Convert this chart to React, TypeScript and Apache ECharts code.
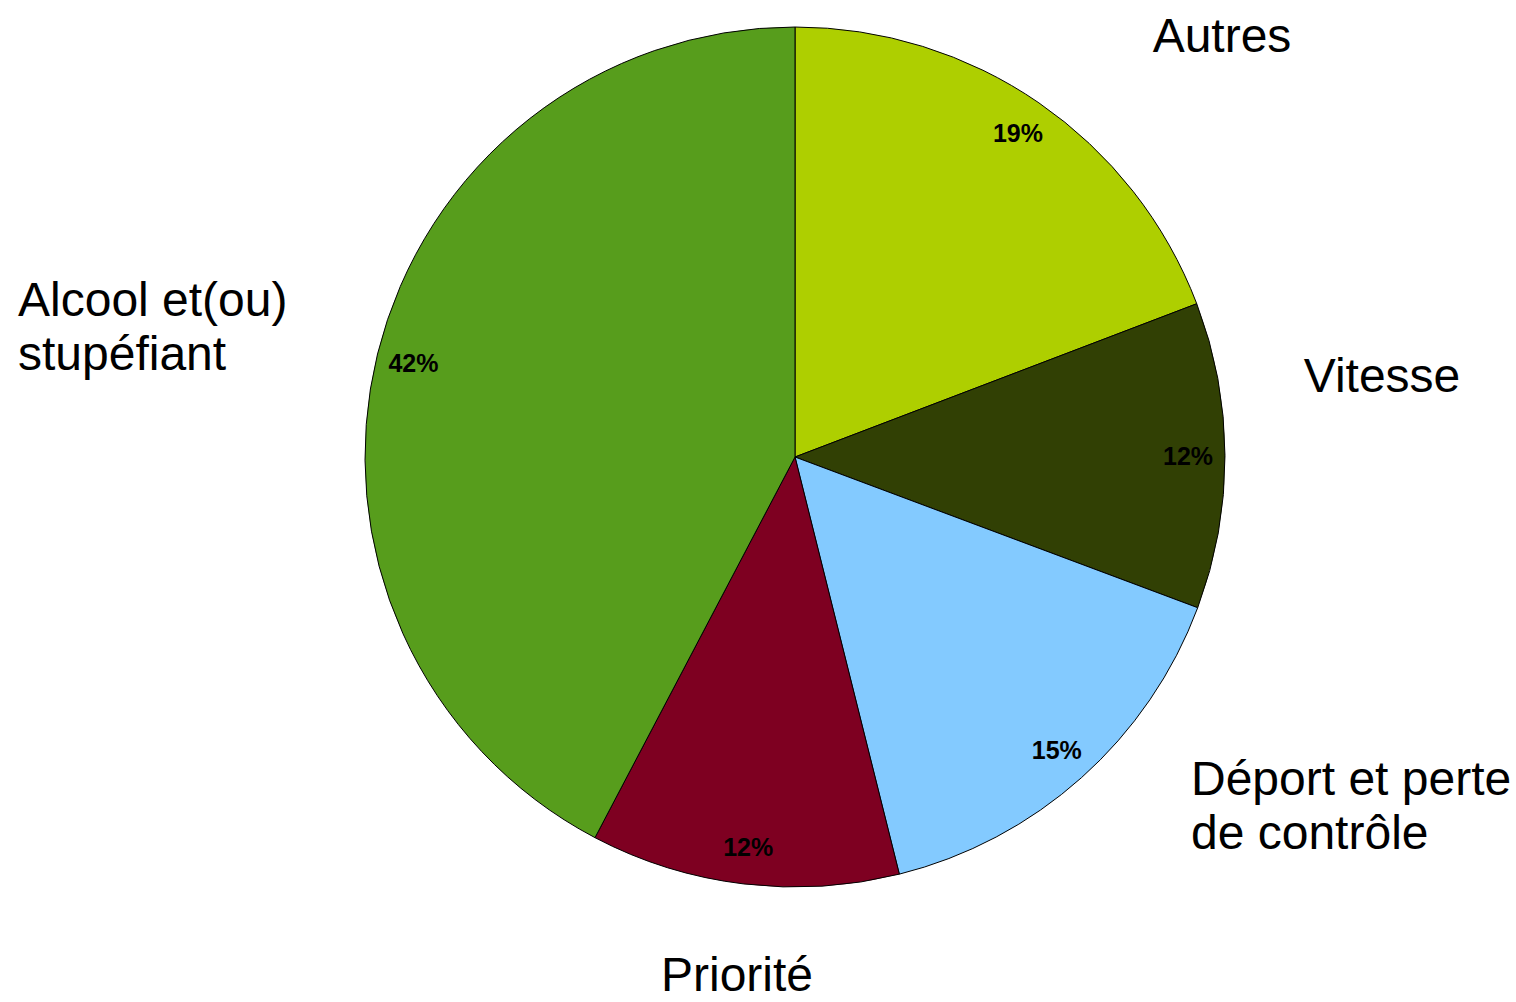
import React, { useEffect, useRef } from "react";
import * as echarts from "echarts";

const categories = ["Autres", "Vitesse", "Déport et perte\nde contrôle", "Priorité", "Alcool et(ou)\nstupéfiant"];
const values = [19.2, 11.5, 15.4, 11.6, 42.3];
const colors = ["#aecf00", "#314004", "#83caff", "#7e0021", "#579d1c"];

// label placement (layout only)
const labelPlacement = [
  { x: 1222, y: 35, align: "center" },
  { x: 1382, y: 375, align: "center" },
  { x: 1191, y: 805, align: "left" },
  { x: 737, y: 974, align: "center" },
  { x: 18, y: 326, align: "left" },
];

export default function App() {
  const ref = useRef<HTMLDivElement>(null);
  useEffect(() => {
    document.body.style.margin = "0";
    const chart = echarts.init(ref.current!, null, { renderer: "svg" });
    const data = categories.map((name, i) => ({ name, value: values[i], itemStyle: { color: colors[i] } }));
    chart.setOption({
      animation: false,
      backgroundColor: "#ffffff",
      series: [
        {
          type: "pie",
          center: [795, 457],
          radius: [0, 430],
          startAngle: 90,
          clockwise: true,
          avoidLabelOverlap: false,
          itemStyle: { borderColor: "#000000", borderWidth: 1 },
          label: {
            show: true,
            position: "outside",
            formatter: "{b}",
            color: "#000000",
            fontFamily: "Liberation Sans",
            fontSize: 48,
            lineHeight: 54,
          },
          labelLine: { show: false },
          labelLayout: (p: any) => {
            const l = labelPlacement[p.dataIndex];
            return { x: l.x, y: l.y, align: l.align, verticalAlign: "middle", hideOverlap: false };
          },
          emphasis: { disabled: true },
          data,
        },
        {
          type: "pie",
          center: [795, 457],
          radius: [350, 430],
          startAngle: 90,
          clockwise: true,
          silent: true,
          avoidLabelOverlap: false,
          itemStyle: { color: "rgba(0,0,0,0)", borderWidth: 0 },
          label: {
            show: true,
            position: "inside",
            formatter: (p: any) => Math.round(p.value) + "%",
            color: "#000000",
            fontFamily: "Liberation Sans",
            fontWeight: "bold",
            fontSize: 25,
          },
          labelLine: { show: false },
          emphasis: { disabled: true },
          data: categories.map((name, i) => ({ name, value: values[i] })),
        },
      ],
    });
    return () => chart.dispose();
  }, []);
  return <div ref={ref} style={{ width: 1516, height: 1002 }} />;
}
